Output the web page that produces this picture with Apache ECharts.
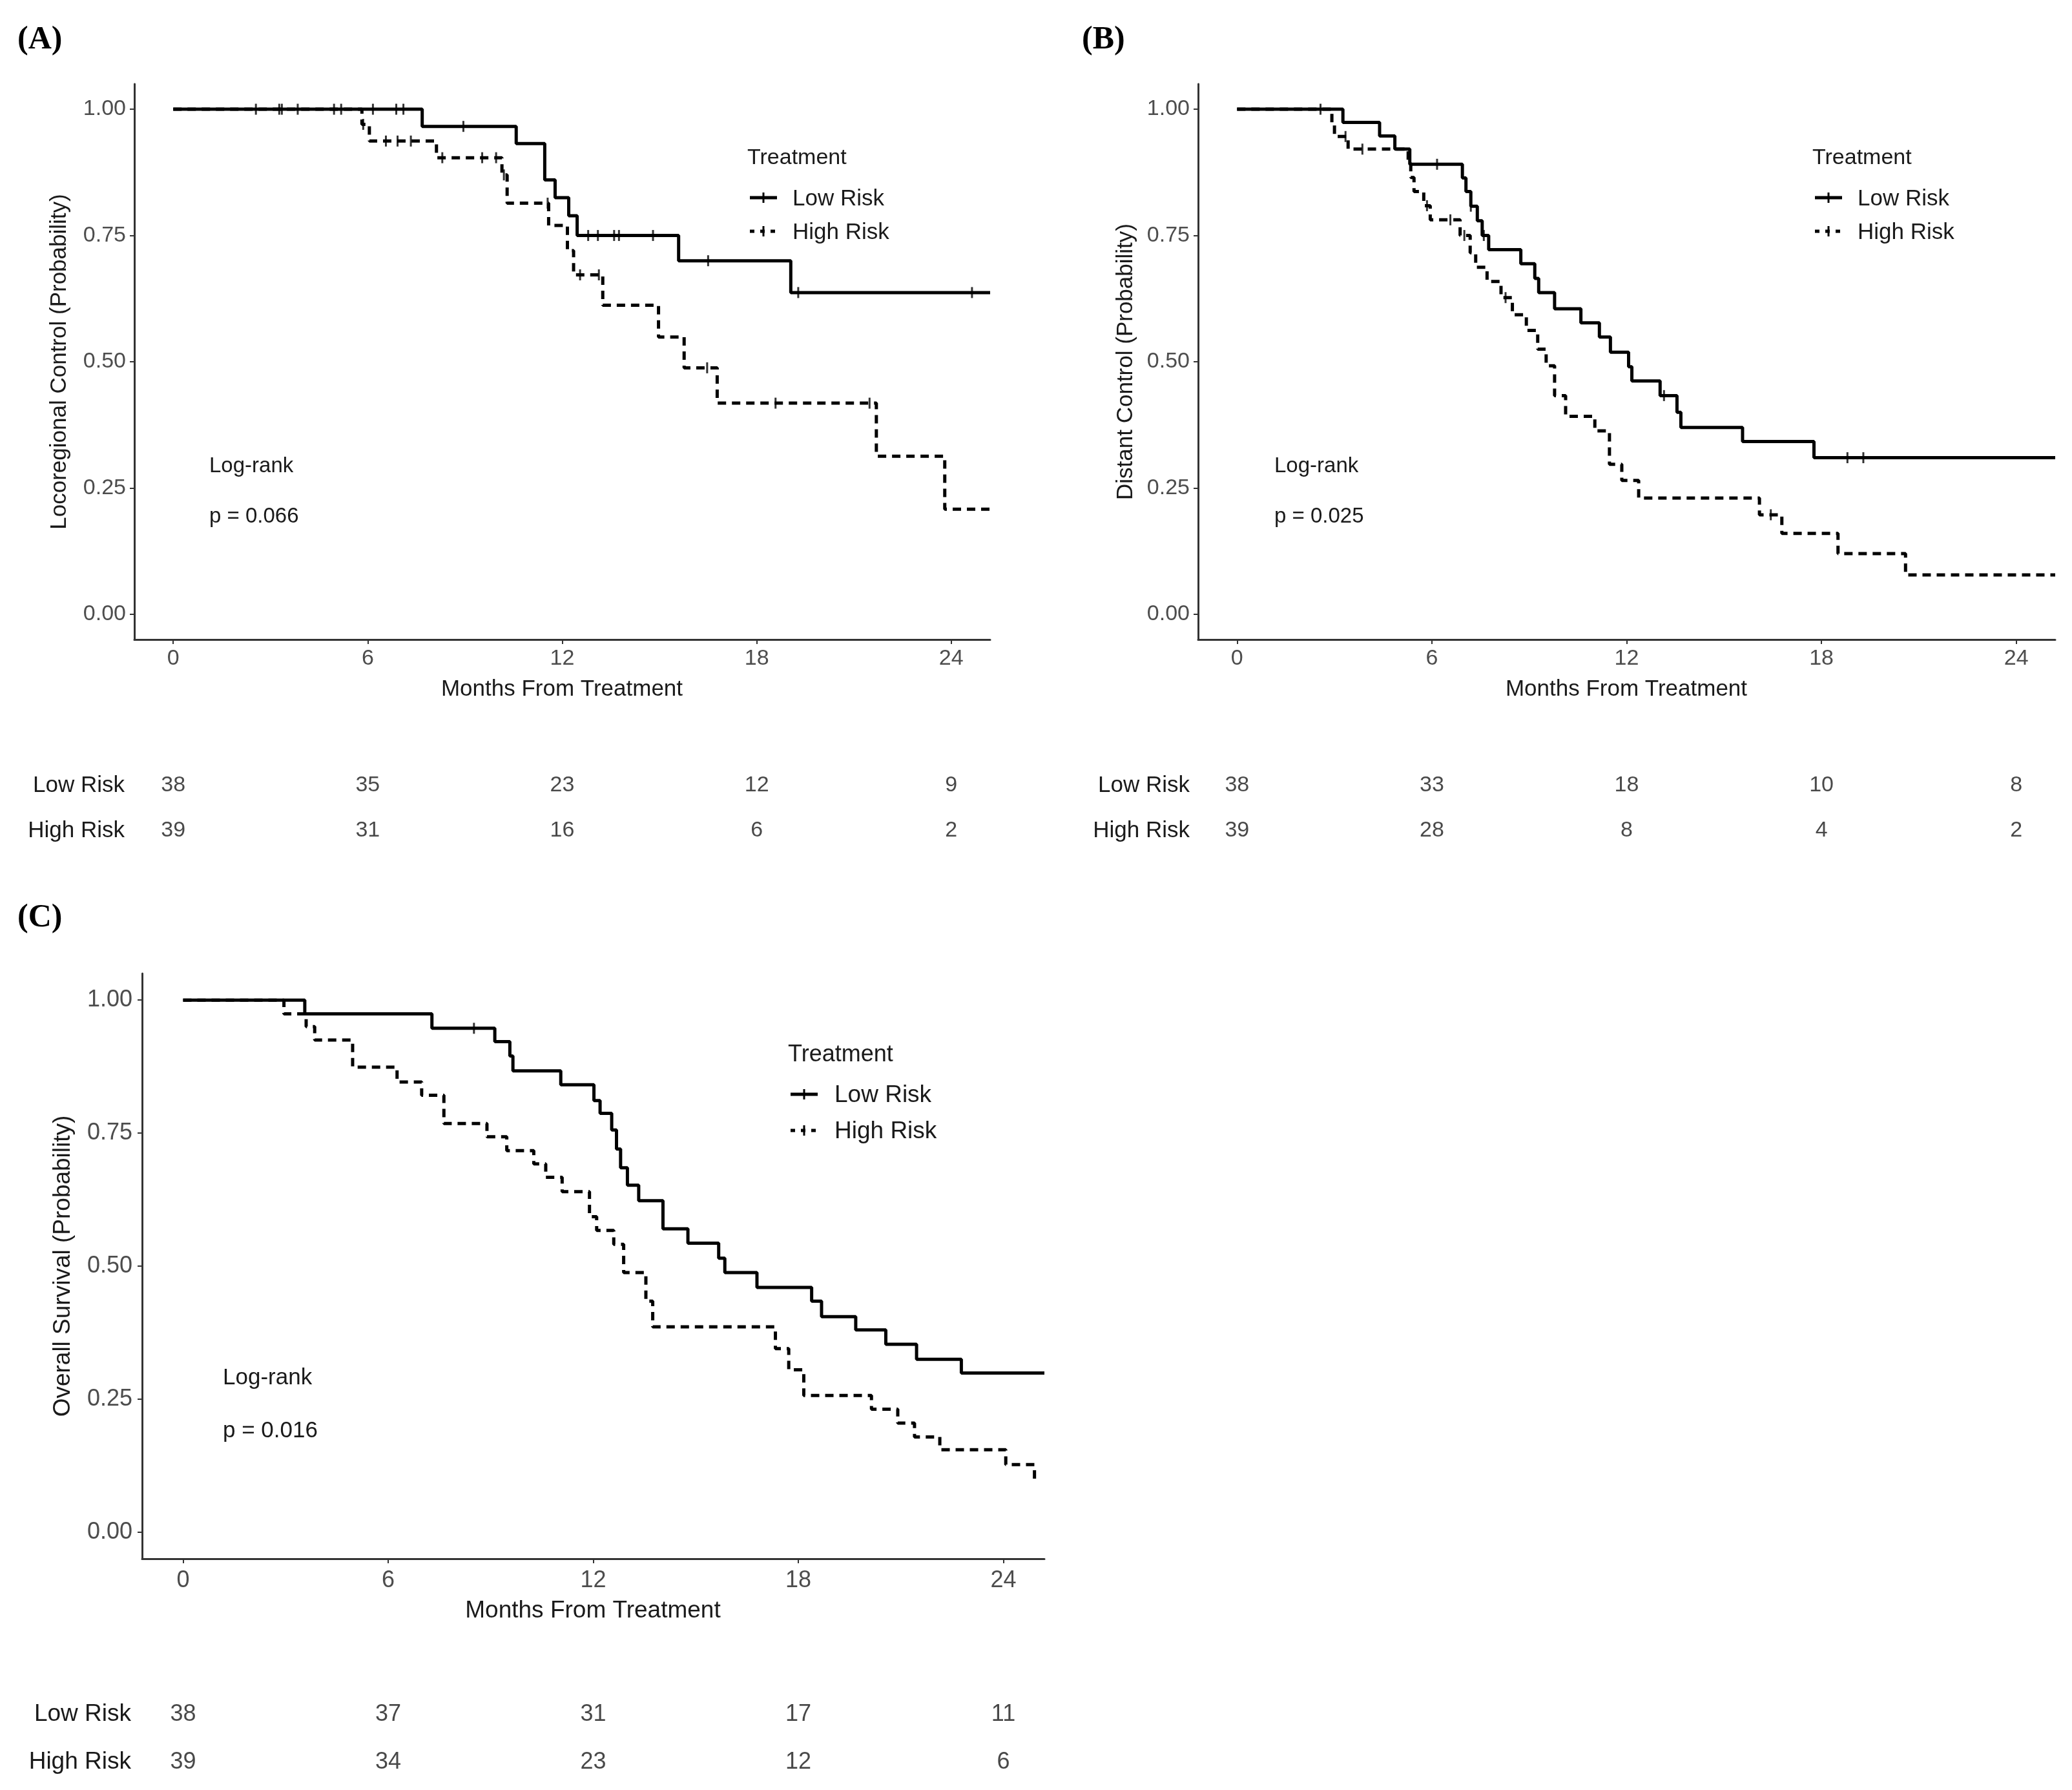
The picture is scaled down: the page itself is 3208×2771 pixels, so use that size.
<!DOCTYPE html>
<html>
<head>
<meta charset="utf-8">
<script src="https://cdn.jsdelivr.net/npm/echarts@6/dist/echarts.min.js"></script>
<style>
body { margin: 0; background: #fff; }
#main { width: 3208px; height: 2771px; }
</style>
</head>
<body>
<div id="main"></div>
<script>
// ---- data (months, survival probability) ----
// (A) locoregional control
var lowA_t = [0, 7.68, 10.58, 11.46, 11.78, 12.2, 12.46, 15.59, 19.05, 25.2];
var lowA_s = [1, 0.966, 0.932, 0.860, 0.825, 0.789, 0.750, 0.700, 0.637, 0.637];
var lowA_cens = [2.55, 3.27, 3.35, 3.84, 4.96, 5.18, 6.16, 6.88, 7.1, 8.95, 12.8, 13.1, 13.6, 13.75, 14.8, 16.5, 19.28, 24.64];
var highA_t = [0, 5.82, 6.05, 8.12, 10.14, 10.3, 11.58, 12.16, 12.35, 13.25, 14.97, 15.76, 16.78, 21.69, 23.8, 25.2];
var highA_s = [1, 0.970, 0.937, 0.904, 0.870, 0.814, 0.770, 0.720, 0.672, 0.612, 0.549, 0.488, 0.418, 0.313, 0.208, 0.208];
var highA_cens = [5.86, 6.56, 6.92, 7.33, 8.3, 9.53, 9.96, 10.2, 11.55, 12.55, 13.13, 16.47, 18.58, 21.48];

// (B) distant control
var lowB_t = [0, 3.26, 4.39, 4.86, 5.32, 6.94, 7.05, 7.2, 7.4, 7.55, 7.75, 8.74, 9.17, 9.29, 9.78, 10.59, 11.16, 11.5, 12.06, 12.16, 13.03, 13.55, 13.67, 15.57, 17.77, 25.2];
var lowB_s = [1, 0.974, 0.947, 0.921, 0.891, 0.864, 0.837, 0.808, 0.779, 0.750, 0.722, 0.694, 0.665, 0.637, 0.605, 0.577, 0.549, 0.519, 0.490, 0.462, 0.433, 0.400, 0.370, 0.342, 0.310, 0.310];
var lowB_cens = [2.57, 6.16, 7.2, 7.6, 13.15, 18.8, 19.29];
var highB_t = [0, 2.92, 3.0, 3.42, 5.27, 5.35, 5.45, 5.75, 5.95, 6.87, 7.18, 7.35, 7.7, 8.13, 8.48, 8.91, 9.26, 9.52, 9.78, 10.12, 11.02, 11.47, 11.85, 12.37, 16.09, 16.78, 18.51, 20.59, 25.2];
var highB_s = [1, 0.974, 0.946, 0.921, 0.893, 0.865, 0.837, 0.809, 0.781, 0.750, 0.716, 0.687, 0.659, 0.627, 0.593, 0.562, 0.525, 0.492, 0.433, 0.392, 0.363, 0.297, 0.265, 0.230, 0.197, 0.160, 0.120, 0.078, 0.078];
var highB_cens = [3.34, 3.86, 5.85, 6.57, 7.0, 8.27, 16.44];

// (C) overall survival
var lowC_t = [0, 3.56, 7.28, 9.12, 9.56, 9.65, 11.05, 12.02, 12.2, 12.54, 12.68, 12.8, 13.0, 13.33, 14.04, 14.77, 15.67, 15.85, 16.79, 18.39, 18.68, 19.68, 20.56, 21.46, 22.77, 25.2];
var lowC_s = [1, 0.974, 0.947, 0.922, 0.895, 0.867, 0.841, 0.811, 0.787, 0.756, 0.720, 0.685, 0.652, 0.623, 0.570, 0.543, 0.515, 0.488, 0.460, 0.434, 0.405, 0.380, 0.353, 0.325, 0.299, 0.299];
var lowC_cens = [8.51];
var highC_t = [0, 2.95, 3.6, 3.85, 4.96, 6.26, 6.98, 7.63, 8.89, 9.47, 10.26, 10.61, 11.09, 11.89, 12.1, 12.6, 12.89, 13.54, 13.74, 17.33, 17.72, 18.16, 20.14, 20.91, 21.4, 22.14, 24.07, 24.91, 25.0];
var highC_s = [1, 0.974, 0.950, 0.925, 0.874, 0.846, 0.821, 0.768, 0.743, 0.717, 0.692, 0.667, 0.640, 0.593, 0.567, 0.541, 0.488, 0.434, 0.386, 0.345, 0.305, 0.257, 0.231, 0.205, 0.179, 0.155, 0.127, 0.098, 0.098];
var highC_cens = [];

// numbers at risk
var riskTimes = [0, 6, 12, 18, 24];
var riskGroups = ['High Risk', 'Low Risk'];
var riskLowA = [38, 35, 23, 12, 9];
var riskHighA = [39, 31, 16, 6, 2];
var riskLowB = [38, 33, 18, 10, 8];
var riskHighB = [39, 28, 8, 4, 2];
var riskLowC = [38, 37, 31, 17, 11];
var riskHighC = [39, 34, 23, 12, 6];

var xTicks = [0, 6, 12, 18, 24];
var yTicks = [0, 0.25, 0.5, 0.75, 1];

var SANS = "'Liberation Sans', Arial, sans-serif";
var SERIF = "'Liberation Serif', 'Times New Roman', serif";

function kmPoints(t, s) {
	var pts = [];
	for (var i = 0; i < t.length; i++) {
		pts.push([t[i], s[i]]);
	}
	return pts;
}
// censor mark sits on the curve: look up the step value at time c
function censorPoints(cens, t, s) {
	var pts = [];
	for (var j = 0; j < cens.length; j++) {
		var v = s[0];
		for (var i = 0; i < t.length; i++) {
			if (t[i] <= cens[j]) v = s[i];
		}
		pts.push([cens[j], v]);
	}
	return pts;
}
function riskPoints(low, high) {
	var pts = [];
	for (var i = 0; i < riskTimes.length; i++) {
		pts.push([riskTimes[i], 'Low Risk', low[i]]);
		pts.push([riskTimes[i], 'High Risk', high[i]]);
	}
	return pts;
}

// panel boxes in pixels
var panels = [
	{ left: 208, top: 130, width: 1325, height: 860, tTop: 1181, tHeight: 140, fs: 34, lm: 13, xm: 13, rm: 15 },
	{ left: 1855, top: 130, width: 1327, height: 860, tTop: 1181, tHeight: 140, fs: 34, lm: 13, xm: 13, rm: 13 },
	{ left: 220, top: 1507, width: 1397, height: 906, tTop: 2617, tHeight: 148, fs: 36, lm: 15, xm: 16, rm: 17 }
];

var grids = [], xAxes = [], yAxes = [], series = [];
for (var p = 0; p < panels.length; p++) {
	var b = panels[p];
	grids.push({ left: b.left, top: b.top, width: b.width, height: b.height, containLabel: false, outerBoundsMode: 'none' });
	grids.push({ left: b.left, top: b.tTop, width: b.width, height: b.tHeight, containLabel: false, outerBoundsMode: 'none' });
	xAxes.push({
		type: 'value', gridIndex: 2 * p, min: -1.2, max: 25.2,
		axisLine: { show: true, onZero: false, lineStyle: { color: '#333', width: 3 } },
		axisTick: { show: true, length: 7, lineStyle: { color: '#333', width: 2 }, customValues: xTicks },
		axisLabel: { show: true, customValues: xTicks, color: '#4d4d4d', fontSize: b.fs, fontFamily: SANS, margin: b.xm },
		splitLine: { show: false }
	});
	yAxes.push({
		type: 'value', gridIndex: 2 * p, min: -0.05, max: 1.05,
		axisLine: { show: true, onZero: false, lineStyle: { color: '#333', width: 3 } },
		axisTick: { show: true, length: 7, lineStyle: { color: '#333', width: 2 }, customValues: yTicks },
		axisLabel: { show: true, customValues: yTicks, color: '#4d4d4d', fontSize: b.fs, fontFamily: SANS, margin: b.lm,
			formatter: function (v) { return v.toFixed(2); } },
		splitLine: { show: false }
	});
	// risk table axes
	xAxes.push({ type: 'value', gridIndex: 2 * p + 1, min: -1.2, max: 25.2, show: false });
	yAxes.push({
		type: 'category', gridIndex: 2 * p + 1, data: riskGroups,
		axisLine: { show: false }, axisTick: { show: false }, splitLine: { show: false },
		axisLabel: { color: '#1a1a1a', fontSize: b.fs + 1, fontFamily: SANS, margin: b.rm }
	});
}

function curve(idx, t, s, dashed) {
	return {
		type: 'line', xAxisIndex: idx, yAxisIndex: idx, step: 'end', showSymbol: false, symbol: 'none',
		data: kmPoints(t, s), silent: true,
		lineStyle: { color: '#000', width: 5, type: dashed ? [13, 9] : 'solid' }
	};
}
function marks(idx, cens, t, s) {
	return {
		type: 'scatter', xAxisIndex: idx, yAxisIndex: idx, symbol: 'rect', symbolSize: [3, 17],
		data: censorPoints(cens, t, s), itemStyle: { color: '#000' }, silent: true
	};
}
function table(idx, low, high, fs) {
	return {
		type: 'scatter', xAxisIndex: idx, yAxisIndex: idx, symbolSize: 1, silent: true,
		data: riskPoints(low, high), itemStyle: { color: 'rgba(0,0,0,0)' },
		label: { show: true, position: 'inside', color: '#1a1a1a', fontSize: fs, fontFamily: SANS,
			formatter: function (pr) { return pr.value[2]; } }
	};
}

series.push(curve(0, lowA_t, lowA_s, false), curve(0, highA_t, highA_s, true));
series.push(marks(0, lowA_cens, lowA_t, lowA_s), marks(0, highA_cens, highA_t, highA_s));
series.push(table(1, riskLowA, riskHighA, 34));
series.push(curve(2, lowB_t, lowB_s, false), curve(2, highB_t, highB_s, true));
series.push(marks(2, lowB_cens, lowB_t, lowB_s), marks(2, highB_cens, highB_t, highB_s));
series.push(table(3, riskLowB, riskHighB, 34));
series.push(curve(4, lowC_t, lowC_s, false), curve(4, highC_t, highC_s, true));
series.push(marks(4, lowC_cens, lowC_t, lowC_s), marks(4, highC_cens, highC_t, highC_s));
series.push(table(5, riskLowC, riskHighC, 36));

function txt(x, y, s, fs, opts) {
	opts = opts || {};
	return {
		type: 'text', x: x, y: y, rotation: opts.rot || 0, silent: true,
		style: { text: s, fontSize: fs, fontFamily: opts.font || SANS, fontWeight: opts.weight || 'normal',
			fill: opts.color || '#1a1a1a', align: opts.align || 'left', verticalAlign: 'middle' }
	};
}
function legend(x0, yT, yL, yH, textX, fs) {
	return [
		txt(x0, yT, 'Treatment', fs),
		{ type: 'line', silent: true, shape: { x1: x0 + 4, y1: yL, x2: x0 + 46, y2: yL }, style: { stroke: '#000', lineWidth: 5 } },
		{ type: 'line', silent: true, shape: { x1: x0 + 25, y1: yL - 8, x2: x0 + 25, y2: yL + 8 }, style: { stroke: '#000', lineWidth: 3 } },
		txt(textX, yL + 2, 'Low Risk', fs + 1),
		{ type: 'line', silent: true, shape: { x1: x0 + 4, y1: yH, x2: x0 + 46, y2: yH }, style: { stroke: '#000', lineWidth: 5, lineDash: [7, 9] } },
		{ type: 'line', silent: true, shape: { x1: x0 + 25, y1: yH - 8, x2: x0 + 25, y2: yH + 8 }, style: { stroke: '#000', lineWidth: 3 } },
		txt(textX, yH + 2, 'High Risk', fs + 1)
	];
}

var graphics = [
	txt(27, 62, '(A)', 50, { font: SERIF, weight: 'bold', color: '#000' }),
	txt(1675, 62, '(B)', 50, { font: SERIF, weight: 'bold', color: '#000' }),
	txt(27, 1421, '(C)', 50, { font: SERIF, weight: 'bold', color: '#000' }),
	txt(92, 560, 'Locoregional Control (Probability)', 35, { rot: Math.PI / 2, align: 'center' }),
	txt(1743, 560, 'Distant Control (Probability)', 35, { rot: Math.PI / 2, align: 'center' }),
	txt(98, 1960, 'Overall Survival (Probability)', 37, { rot: Math.PI / 2, align: 'center' }),
	txt(870, 1067, 'Months From Treatment', 35, { align: 'center' }),
	txt(2518, 1067, 'Months From Treatment', 35, { align: 'center' }),
	txt(918, 2494, 'Months From Treatment', 37, { align: 'center' }),
	txt(324, 722, 'Log-rank', 33),
	txt(324, 800, 'p = 0.066', 33),
	txt(1973, 722, 'Log-rank', 33),
	txt(1973, 800, 'p = 0.025', 33),
	txt(345, 2133, 'Log-rank', 35),
	txt(345, 2215, 'p = 0.016', 35)
];
graphics = graphics.concat(legend(1157, 245, 306, 358, 1227, 34));
graphics = graphics.concat(legend(2806, 245, 306, 358, 2876, 34));
graphics = graphics.concat(legend(1220, 1633, 1694, 1750, 1292, 36));

var myChart = echarts.init(document.getElementById('main'), null, { renderer: 'canvas' });
var option = {
	backgroundColor: '#fff',
	animation: false,
	grid: grids,
	xAxis: xAxes,
	yAxis: yAxes,
	series: series,
	graphic: graphics
};
myChart.setOption(option);
</script>
</body>
</html>
